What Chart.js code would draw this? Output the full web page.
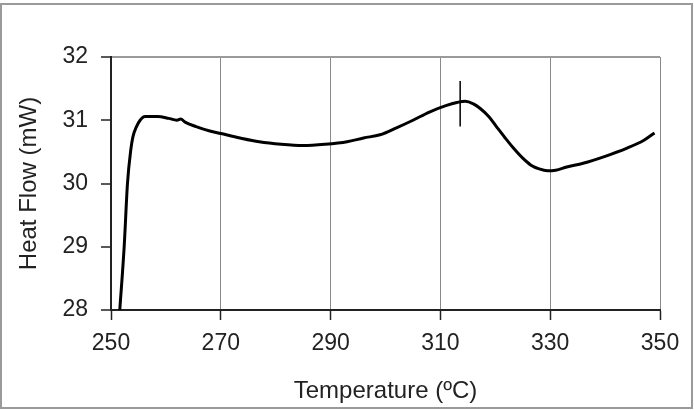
<!DOCTYPE html>
<html>
<head>
<meta charset="utf-8">
<script src="https://cdn.jsdelivr.net/npm/chart.js@4.4.0/dist/chart.umd.min.js"></script>
<style>
  body { margin: 0; background: #fff; }
  canvas { display: block; }
</style>
</head>
<body>
<canvas id="dscChart" width="694" height="410"></canvas>
<script>
// DSC curve
const temperature = [251.6, 252.4, 253.0, 253.6, 254.0, 254.6, 255.3, 256.2, 258.5, 260.5, 262.0, 262.7, 263.5,
  265.5, 268, 270, 273.5, 277, 281, 285, 289, 293, 296, 299, 302, 305, 308, 311, 313.0, 314.5, 316.0, 317.2,
  318.8, 320.2, 321.8, 323.3, 325, 326.5, 328, 329.5, 331, 333, 336, 340, 344, 347, 349];
const heatFlow = [28.0, 29.0, 30.0, 30.53, 30.74, 30.89, 31.0, 31.06, 31.06, 31.03, 31.0, 31.02, 30.97,
  30.9, 30.83, 30.79, 30.72, 30.66, 30.62, 30.6, 30.62, 30.66, 30.72, 30.77, 30.88, 31.0, 31.13, 31.23, 31.28, 31.3, 31.26, 31.19,
  31.06, 30.9, 30.72, 30.56, 30.4, 30.29, 30.23, 30.2, 30.21, 30.26, 30.32, 30.43, 30.56, 30.68, 30.8];

// small vertical mark at the peak
const markerTemp = [313.6, 313.6];
const markerFlow = [31.62, 30.9];

const xTicks = [250, 270, 290, 310, 330, 350];
const yTicks = [28, 29, 30, 31, 32];

const FONT = 'Liberation Sans, Arial, sans-serif';

const toPoints = (xs, ys) => xs.map((x, i) => ({ x: x, y: ys[i] }));

// outer frame round the whole picture
const framePlugin = {
  id: 'frame',
  afterDraw(chart) {
    const c = chart.ctx;
    c.save();
    c.strokeStyle = '#9a9a9a';
    c.lineWidth = 2;
    c.strokeRect(1, 4, 691, 404);
    c.restore();
  }
};

const ctx = document.getElementById('dscChart').getContext('2d');
new Chart(ctx, {
  type: 'line',
  data: {
    datasets: [
      {
        data: toPoints(temperature, heatFlow),
        borderColor: '#000',
        borderWidth: 3,
        pointRadius: 0,
        cubicInterpolationMode: 'monotone',
        fill: false
      },
      {
        data: toPoints(markerTemp, markerFlow),
        borderColor: '#000',
        borderWidth: 1.5,
        pointRadius: 0,
        fill: false
      }
    ]
  },
  options: {
    responsive: false,
    animation: false,
    layout: { padding: { left: 0, top: 57, right: 34, bottom: 0 } },
    plugins: {
      legend: { display: false },
      tooltip: { enabled: false }
    },
    scales: {
      x: {
        type: 'linear',
        min: xTicks[0],
        max: xTicks[xTicks.length - 1],
        afterBuildTicks: (s) => { s.ticks = xTicks.map(v => ({ value: v })); },
        afterFit: (s) => { s.height = 100; },
        ticks: { font: { family: FONT, size: 23 }, color: '#222', padding: 10, maxRotation: 0 },
        grid: {
          color: (c) => (c.tick && c.tick.value === 250 ? 'transparent' : '#8a8a8a'),
          lineWidth: 1,
          tickColor: '#222',
          tickLength: 10,
          tickWidth: 1.5
        },
        border: { color: '#222', width: 2 },
        title: {
          display: true,
          text: 'Temperature (ºC)',
          font: { family: FONT, size: 24 },
          color: '#222',
          padding: { top: 0, bottom: 4 }
        }
      },
      y: {
        min: yTicks[0],
        max: yTicks[yTicks.length - 1],
        afterBuildTicks: (s) => { s.ticks = yTicks.map(v => ({ value: v })); },
        afterFit: (s) => { s.width = 111; },
        ticks: { font: { family: FONT, size: 23 }, color: '#222', padding: 13 },
        grid: {
          color: (c) => (c.tick && c.tick.value === 32 ? '#9a9a9a' : 'transparent'),
          lineWidth: 2,
          tickColor: '#222',
          tickLength: 10,
          tickWidth: 1.5
        },
        border: { color: '#222', width: 2 },
        title: {
          display: true,
          text: 'Heat Flow (mW)',
          font: { family: FONT, size: 24 },
          color: '#222',
          padding: { top: 15, bottom: 0 }
        }
      }
    }
  },
  plugins: [framePlugin]
});
</script>
</body>
</html>
